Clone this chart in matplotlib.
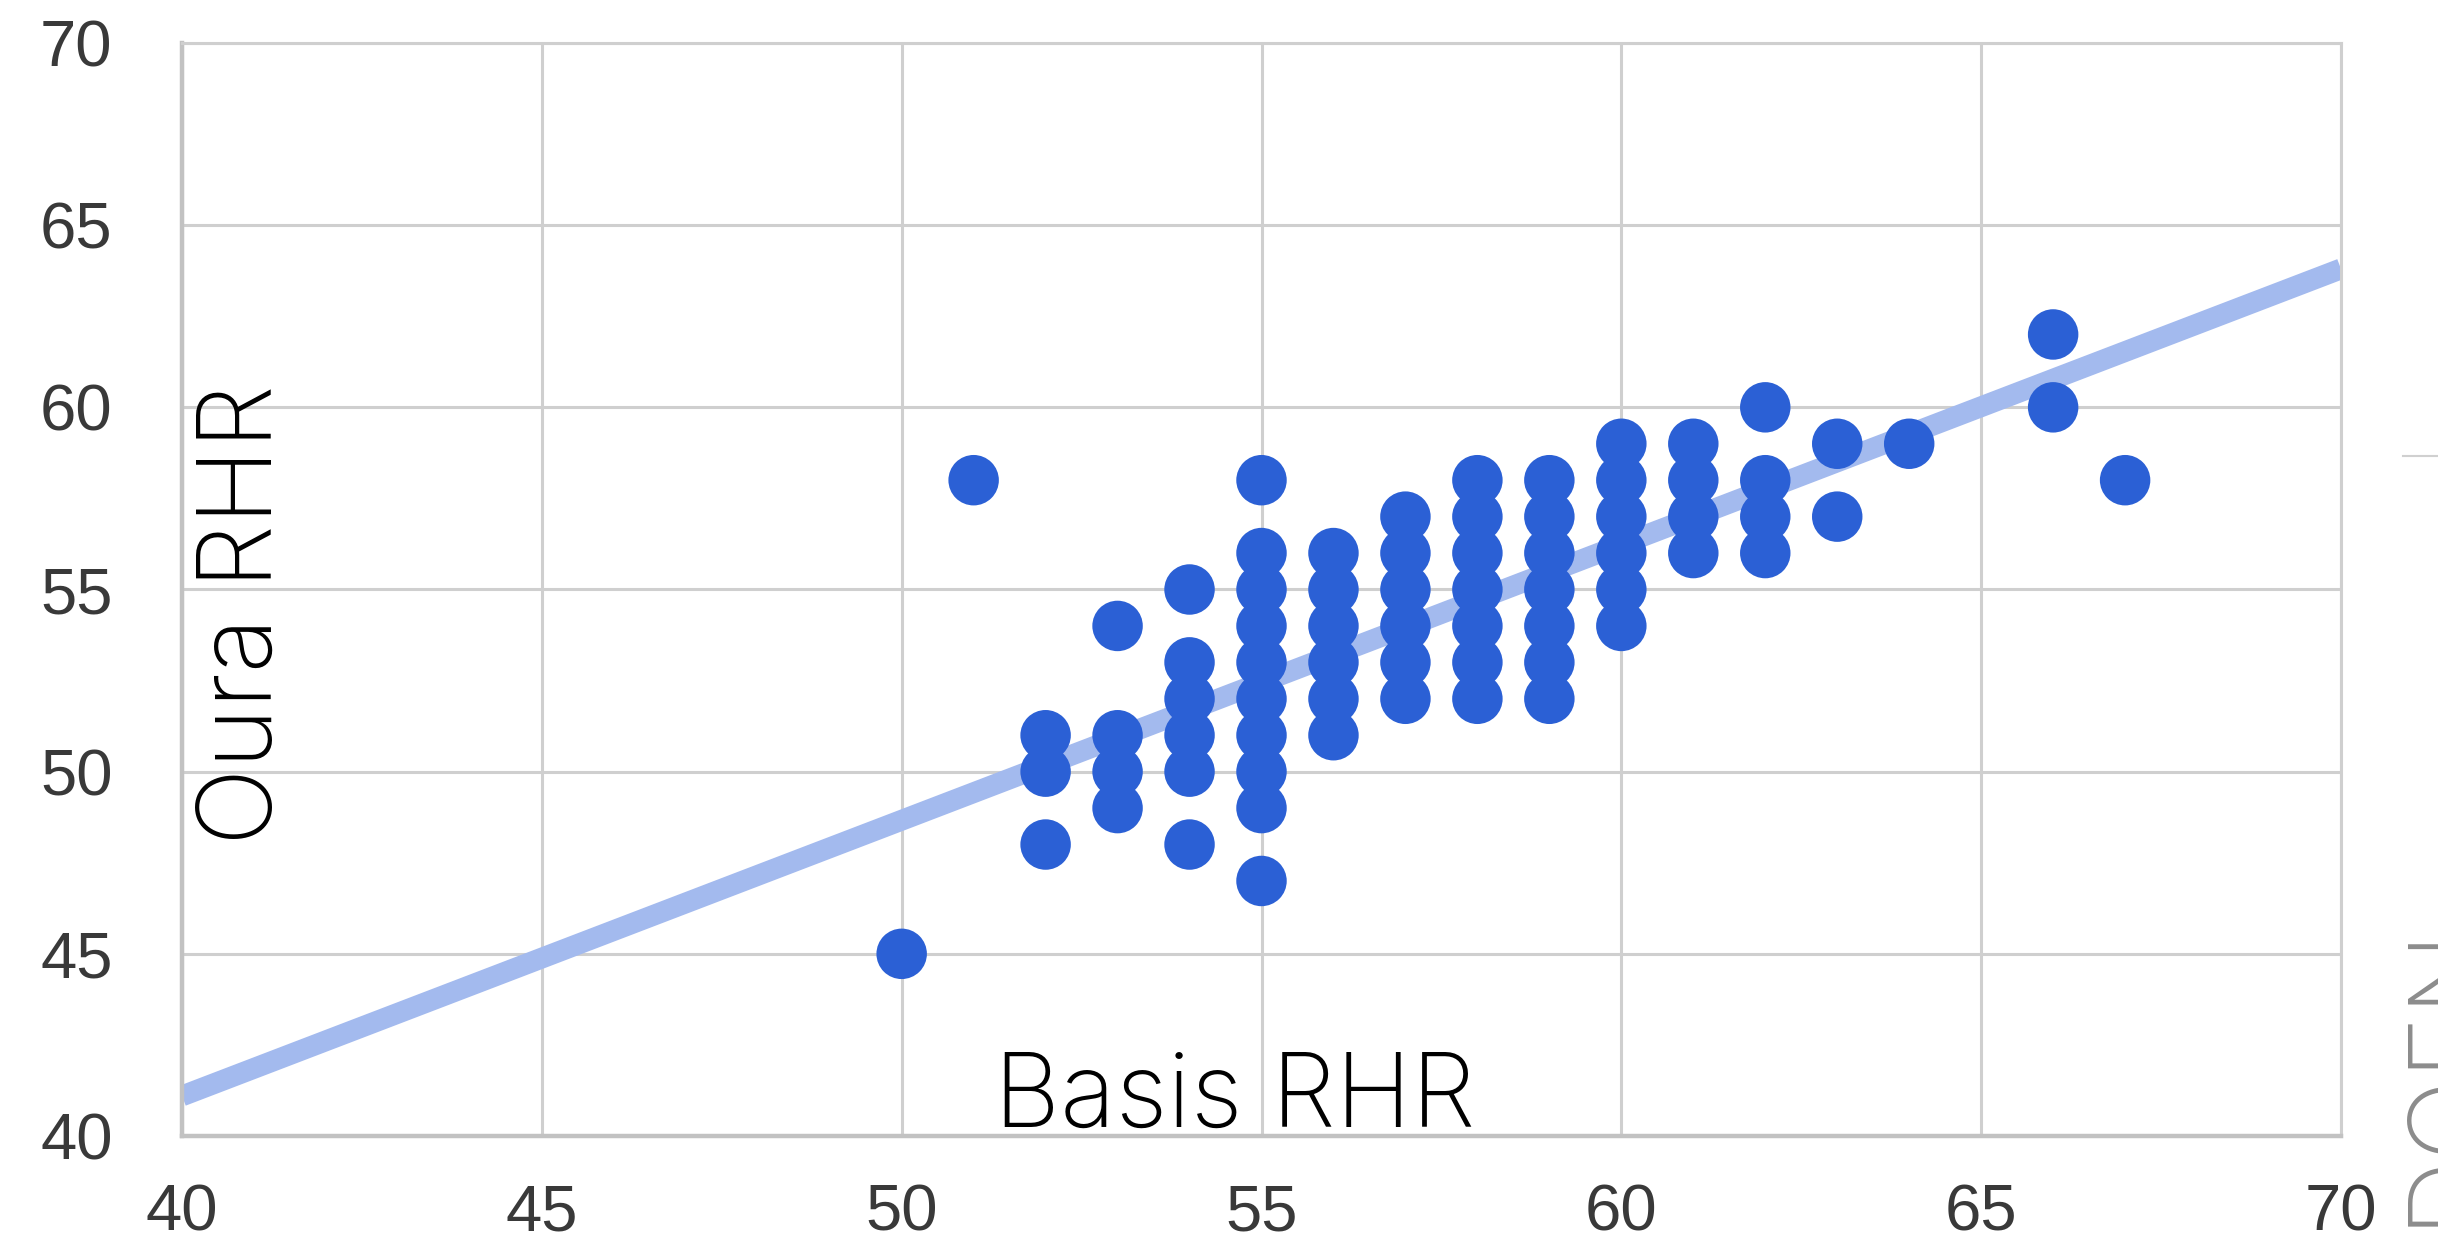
import matplotlib
matplotlib.use("Agg")
import matplotlib.pyplot as plt
from matplotlib.lines import Line2D

# Basis vs Oura resting heart rate, one entry per nightly reading
basis_rhr = [50, 51,
             52, 52, 52,
             53, 53, 53, 53,
             54, 54, 54, 54, 54, 54,
             55, 55, 55, 55, 55, 55, 55, 55, 55, 55,
             56, 56, 56, 56, 56, 56,
             57, 57, 57, 57, 57, 57,
             58, 58, 58, 58, 58, 58, 58,
             59, 59, 59, 59, 59, 59, 59,
             60, 60, 60, 60, 60, 60,
             61, 61, 61, 61,
             62, 62, 62, 62,
             63, 63,
             64,
             66, 66,
             67]
oura_rhr = [45, 58,
            51, 50, 48,
            54, 51, 50, 49,
            55, 53, 52, 51, 50, 48,
            58, 56, 55, 54, 53, 52, 51, 50, 49, 47,
            56, 55, 54, 53, 52, 51,
            57, 56, 55, 54, 53, 52,
            58, 57, 56, 55, 54, 53, 52,
            58, 57, 56, 55, 54, 53, 52,
            59, 58, 57, 56, 55, 54,
            59, 58, 57, 56,
            60, 58, 57, 56,
            59, 57,
            59,
            62, 60,
            58]

# trendline end points
trend_x = [40, 70]
trend_y = [41.1, 63.8]

ticks = [40, 45, 50, 55, 60, 65, 70]

W, H = 2438, 1248
fig = plt.figure(figsize=(W / 100, H / 100), dpi=100)
ax = fig.add_axes([182 / W, 1 - 1136 / H, 2159 / W, 1093 / H])

ax.plot(trend_x, trend_y, color='#a3baee', lw=15, solid_capstyle='butt', zorder=2)
ax.scatter(basis_rhr, oura_rhr, s=1320, color='#2b60d5', edgecolors='none', zorder=3)

ax.set_xlim(40, 70)
ax.set_ylim(40, 70)
ax.set_xticks(ticks)
ax.set_yticks(ticks)
ax.grid(True, color='#cfcfcf', lw=2.2, zorder=0)
ax.set_axisbelow(True)
for side in ['top', 'right']:
    ax.spines[side].set_color('#cfcfcf')
    ax.spines[side].set_linewidth(2.2)
for side in ['left', 'bottom']:
    ax.spines[side].set_color('#c2c2c2')
    ax.spines[side].set_linewidth(3.2)

ax.tick_params(axis='both', length=0, labelsize=47, labelcolor='#393939')
ax.tick_params(axis='x', pad=34)
ax.tick_params(axis='y', pad=50)
for lab in ax.get_xticklabels() + ax.get_yticklabels():
    lab.set_family(['Liberation Sans', 'DejaVu Sans'])

# overlaid axis titles
label_font = ['Inter', 'DejaVu Sans']
fig.text(1235 / W, 1 - 1127 / H, 'Basis RHR', fontsize=74, family=label_font,
         fontweight='light', ha='center', va='baseline', color='black')
fig.text(272 / W, 1 - 615 / H, 'Oura RHR', fontsize=74, family=label_font,
         fontweight='light', rotation=90, rotation_mode='anchor',
         ha='center', va='baseline', color='black')

# cropped bits of the slide at the right edge
fig.text(2398 / W, 1 - 1226 / H, 'DOEN', fontsize=78, family=label_font,
         fontweight='light', rotation=90, rotation_mode='anchor',
         ha='left', va='top', color='#8c8c8c')
fig.add_artist(Line2D([2403 / W, 1.0], [1 - 456 / H, 1 - 456 / H],
                      transform=fig.transFigure, color='#d0d0d0', lw=1.5))

fig.savefig('out.png', dpi=100)
